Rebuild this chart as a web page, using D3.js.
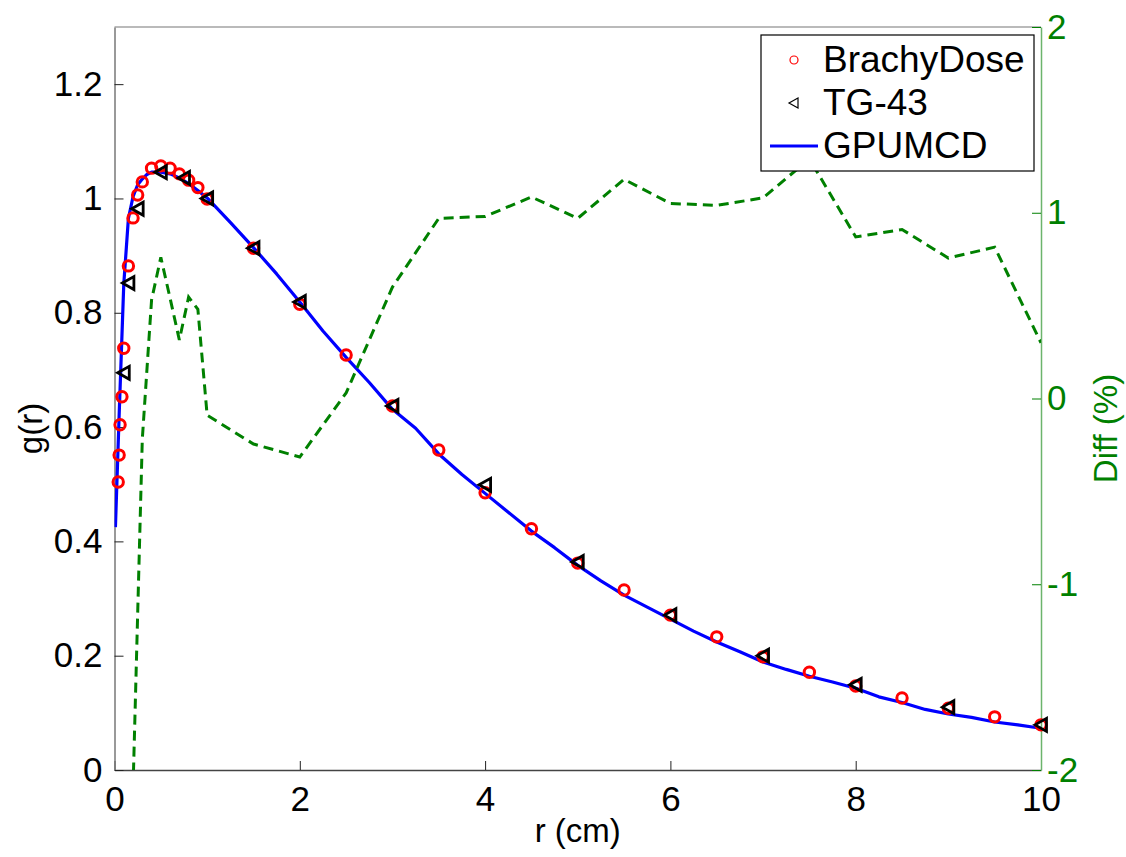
<!DOCTYPE html>
<html lang="en">
<head>
<meta charset="UTF-8">
<title>g(r)</title>
<script src="https://cdnjs.cloudflare.com/ajax/libs/d3/7.8.5/d3.min.js"></script>
<style>
  body { margin: 0; background: #fff; }
  text { font-family: "Liberation Sans", Arial, Helvetica, sans-serif; }
</style>
</head>
<body>
<div id="main_container"></div>
<script>

    // BrachyDose (circles)
    var brachyR = [0.04, 0.05, 0.06, 0.08, 0.1, 0.15, 0.2, 0.25, 0.3, 0.4, 0.5, 0.6, 0.7, 0.8, 0.9, 1.0,
                   1.5, 2, 2.5, 3, 3.5, 4, 4.5, 5, 5.5, 6, 6.5, 7, 7.5, 8, 8.5, 9, 9.5, 10];
    var brachyG = [0.504, 0.551, 0.604, 0.653, 0.738, 0.882, 0.966, 1.006, 1.029, 1.053, 1.057, 1.053, 1.043, 1.032, 1.019, 0.999,
                   0.913, 0.815, 0.726, 0.637, 0.560, 0.485, 0.422, 0.362, 0.315, 0.271, 0.233, 0.198, 0.171, 0.147, 0.126, 0.108, 0.093, 0.079];

    // TG-43 (triangles)
    var tgR = [0.1, 0.15, 0.25, 0.5, 0.75, 1, 1.5, 2, 3, 4, 5, 6, 7, 8, 9, 10];
    var tgG = [0.695, 0.852, 0.982, 1.046, 1.036, 1.0, 0.913, 0.819, 0.637, 0.499, 0.364, 0.271, 0.200, 0.149, 0.110, 0.079];

    // GPUMCD (line)
    var gpuR = [0.01, 0.05, 0.1, 0.15, 0.2, 0.25, 0.3, 0.35, 0.4, 0.5, 0.6, 0.7, 0.8, 0.9, 1.0,
                1.25, 1.5, 1.75, 2.0, 2.25, 2.5, 2.75, 3.0, 3.25, 3.5, 3.75, 4.0, 4.25, 4.5, 4.75, 5.0,
                5.25, 5.5, 5.75, 6.0, 6.25, 6.5, 6.75, 7.0, 7.25, 7.5, 7.75, 8.0, 8.25, 8.5, 8.75, 9.0,
                9.25, 9.5, 9.75, 10.0];
    var gpuG = [0.425, 0.62, 0.85, 0.965, 1.003, 1.024, 1.034, 1.042, 1.046, 1.046, 1.043, 1.036, 1.026, 1.014, 1.001,
                0.958, 0.914, 0.868, 0.819, 0.768, 0.722, 0.678, 0.631, 0.598, 0.553, 0.517, 0.484, 0.451, 0.418, 0.389, 0.358,
                0.331, 0.306, 0.285, 0.264, 0.243, 0.224, 0.207, 0.189, 0.176, 0.164, 0.154, 0.143, 0.128, 0.118, 0.106, 0.098,
                0.092, 0.084, 0.079, 0.073];

    // Diff (%) on right axis
    var diffR = [0.2, 0.3, 0.4, 0.5, 0.6, 0.7, 0.8, 0.9, 1.0, 1.5, 2, 2.5, 3, 3.5, 4, 4.5, 5,
                 5.5, 6, 6.5, 7, 7.5, 8, 8.5, 9, 9.5, 10];
    var diffV = [-2.1, -0.22, 0.53, 0.76, 0.54, 0.315, 0.546, 0.48, -0.09, -0.245, -0.315, 0.03, 0.60, 0.97, 0.98, 1.085, 0.97,
                 1.18, 1.05, 1.04, 1.08, 1.29, 0.87, 0.91, 0.756, 0.815, 0.30];

    var xTicks = [0, 2, 4, 6, 8, 10];
    var yTicks = [0, 0.2, 0.4, 0.6, 0.8, 1, 1.2];
    var y2Ticks = [-2, -1, 0, 1, 2];

    var svgWidth = 1126;
    var svgHeight = 857;
    var pLeft = 114.5, pRight = 1041, pTop = 27, pBottom = 770;
    var green = "#008000";

    var svg = d3.select("#main_container").append("svg")
            .attr("width", svgWidth)
            .attr("height", svgHeight);
    svg.append("rect").attr("width", svgWidth).attr("height", svgHeight).attr("fill", "#fff");

    var x = d3.scaleLinear().domain([0, 10]).range([pLeft, pRight]);
    var y = d3.scaleLinear().domain([0, 1.3]).range([pBottom, pTop]);
    var y2 = d3.scaleLinear().domain([-2, 2]).range([pBottom, pTop]);

    svg.append("clipPath").attr("id", "plotclip")
        .append("rect")
        .attr("x", pLeft).attr("y", pTop)
        .attr("width", pRight - pLeft).attr("height", pBottom - pTop);

    // axes
    var xAxis = svg.append("g")
        .attr("transform", "translate(0," + pBottom + ")")
        .call(d3.axisBottom(x).tickValues(xTicks).tickSizeInner(-9).tickSizeOuter(0).tickPadding(22)
              .tickFormat(function(d) { return String(d); }));
    xAxis.select(".domain").attr("stroke", "#444").attr("stroke-width", 1.5);
    xAxis.selectAll(".tick line").attr("stroke", "#222");
    xAxis.selectAll("text").attr("font-size", 35).attr("fill", "#000").attr("dy", "0.55em");

    var yAxis = svg.append("g")
        .attr("transform", "translate(" + pLeft + ",0)")
        .call(d3.axisLeft(y).tickValues(yTicks).tickSizeInner(-9).tickSizeOuter(0).tickPadding(12)
              .tickFormat(function(d) { return String(d); }));
    yAxis.select(".domain").attr("stroke", "#777").attr("stroke-width", 1.5);
    yAxis.selectAll(".tick line").attr("stroke", "#222");
    yAxis.selectAll("text").attr("font-size", 35).attr("fill", "#000");

    // top border
    svg.append("line")
        .attr("x1", pLeft).attr("x2", pRight).attr("y1", pTop).attr("y2", pTop)
        .attr("stroke", "#777").attr("stroke-width", 1.2);

    var y2Axis = svg.append("g")
        .attr("transform", "translate(" + pRight + ",0)")
        .call(d3.axisRight(y2).tickValues(y2Ticks).tickSizeInner(-9).tickSizeOuter(0).tickPadding(6)
              .tickFormat(function(d) { return String(d); }));
    y2Axis.select(".domain").attr("stroke", "#6cb46c").attr("stroke-width", 1.5);
    y2Axis.selectAll(".tick line").attr("stroke", green);
    y2Axis.selectAll("text").attr("font-size", 35).attr("fill", green);

    // axis labels
    svg.append("text")
        .attr("x", (pLeft + pRight) / 2).attr("y", 842)
        .attr("text-anchor", "middle").attr("font-size", 33)
        .text("r (cm)");
    svg.append("text")
        .attr("transform", "translate(42," + ((pTop + pBottom) / 2 + 30) + ") rotate(-90)")
        .attr("text-anchor", "middle").attr("font-size", 33)
        .text("g(r)");
    svg.append("text")
        .attr("transform", "translate(1117," + (y2(0) + 30) + ") rotate(-90)")
        .attr("text-anchor", "middle").attr("font-size", 33).attr("fill", green)
        .text("Diff (%)");

    var plot = svg.append("g").attr("clip-path", "url(#plotclip)");

    var brachy = brachyR.map(function(r, i) { return { r: r, g: brachyG[i] }; });
    var tg = tgR.map(function(r, i) { return { r: r, g: tgG[i] }; });
    var gpu = gpuR.map(function(r, i) { return { r: r, g: gpuG[i] }; });
    var diff = diffR.map(function(r, i) { return { r: r, v: diffV[i] }; });

    // circles
    svg.append("g").selectAll("circle").data(brachy).enter().append("circle")
        .attr("cx", function(d) { return x(d.r); })
        .attr("cy", function(d) { return y(d.g); })
        .attr("r", 5.2)
        .attr("fill", "none").attr("stroke", "#ff0000").attr("stroke-width", 3);

    // left-pointing triangles
    var triPath = "M-6,0L5.5,-6.5L5.5,6.5Z";
    svg.append("g").selectAll("path").data(tg).enter().append("path")
        .attr("d", triPath)
        .attr("transform", function(d) { return "translate(" + x(d.r) + "," + y(d.g) + ")"; })
        .attr("fill", "none").attr("stroke", "#000").attr("stroke-width", 2.8)
        .attr("stroke-linejoin", "miter");

    // GPUMCD line
    plot.append("path").datum(gpu)
        .attr("fill", "none").attr("stroke", "#0000ff").attr("stroke-width", 3.2)
        .attr("stroke-linejoin", "round")
        .attr("d", d3.line().x(function(d) { return x(d.r); }).y(function(d) { return y(d.g); }));

    // Diff line
    plot.append("path").datum(diff)
        .attr("fill", "none").attr("stroke", green).attr("stroke-width", 3)
        .attr("stroke-dasharray", "10,6")
        .attr("d", d3.line().x(function(d) { return x(d.r); }).y(function(d) { return y2(d.v); }));

    // legend
    var lg = svg.append("g");
    lg.append("rect")
        .attr("x", 761).attr("y", 35).attr("width", 273).attr("height", 136)
        .attr("fill", "#fff").attr("stroke", "#000").attr("stroke-width", 1.2);
    lg.append("circle").attr("cx", 794).attr("cy", 60).attr("r", 4)
        .attr("fill", "none").attr("stroke", "#ff0000").attr("stroke-width", 1.2);
    lg.append("path").attr("d", "M-5,0L4,-5L4,5Z")
        .attr("transform", "translate(794,103)")
        .attr("fill", "none").attr("stroke", "#000").attr("stroke-width", 1.2);
    lg.append("line").attr("x1", 770).attr("x2", 818).attr("y1", 146).attr("y2", 146)
        .attr("stroke", "#0000ff").attr("stroke-width", 3);
    var legendNames = ["BrachyDose", "TG-43", "GPUMCD"];
    lg.selectAll(".ltxt").data(legendNames).enter().append("text")
        .attr("class", "ltxt")
        .attr("x", 823)
        .attr("y", function(d, i) { return 72 + i * 43; })
        .attr("font-size", 37)
        .text(function(d) { return d; });

</script>
</body>
</html>
